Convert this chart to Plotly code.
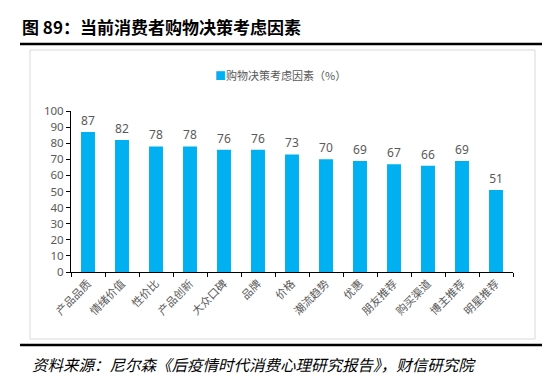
import plotly.graph_objects as go

categories = ["产品品质", "情绪价值", "性价比", "产品创新", "大众口碑", "品牌", "价格",
              "潮流趋势", "优惠", "朋友推荐", "购买渠道", "博主推荐", "明星推荐"]
values = [87, 82, 78, 78, 76, 76, 73, 70, 69, 67, 66, 69, 51]
series_name = "购物决策考虑因素（%）"
title_text = "图 89：当前消费者购物决策考虑因素"
source_text = "资料来源：尼尔森《后疫情时代消费心理研究报告》，财信研究院"

W, H = 550, 376
L, R, T, B = 63, 505, 103, 264  # plot area in pixels
BLUE = "#00B0F0"

def px(X):
    return (X - L) / (R - L)

def py(Y):
    return (B - Y) / (B - T)

CJK = "Noto Sans CJK SC"
GRAY = "#595959"

fig = go.Figure()
fig.add_trace(go.Bar(
    x=categories, y=values, name=series_name,
    marker=dict(color=BLUE, line=dict(width=0)),
    text=[str(v) for v in values], textposition="outside",
    textfont=dict(family="Noto Sans, " + CJK, size=12, color=GRAY),
    cliponaxis=False, showlegend=False,
))

fig.update_layout(
    width=W, height=H,
    margin=dict(l=L, r=W - R, t=T, b=H - B, autoexpand=False),
    paper_bgcolor="white", plot_bgcolor="white",
    bargap=0.59,
    xaxis=dict(type="category", showline=True, linecolor="black", linewidth=1,
               ticks="outside", tickson="boundaries", ticklen=4, tickcolor="black",
               tickangle=-45, tickfont=dict(family=CJK, size=11, color=GRAY),
               showgrid=False),
    yaxis=dict(range=[0, 100], dtick=10, showline=True, linecolor="black", linewidth=1,
               ticks="outside", ticklen=4, tickcolor="black", showgrid=False,
               tickfont=dict(family="Noto Sans, " + CJK, size=11.5, color=GRAY),
               zeroline=False),
    font=dict(family=CJK),
)

shapes = [
    dict(type="line", xref="paper", yref="paper", x0=px(12), x1=px(540), y0=py(36), y1=py(36),
         line=dict(color="black", width=2.5)),
    dict(type="rect", xref="paper", yref="paper", x0=px(22), x1=px(527), y0=py(331), y1=py(42),
         line=dict(color="#D9D9D9", width=1), fillcolor="rgba(0,0,0,0)", layer="below"),
    dict(type="line", xref="paper", yref="paper", x0=px(12), x1=px(537), y0=py(337), y1=py(337),
         line=dict(color="black", width=2.5)),
]
fig.update_layout(shapes=shapes)

# legend (manual)
fig.add_annotation(text="<span style='color:%s'>■</span>%s" % (BLUE, series_name),
                   xref="paper", yref="paper", x=px(205), y=py(67),
                   xanchor="left", yanchor="middle", showarrow=False,
                   font=dict(family=CJK, size=11, color=GRAY))

fig.add_annotation(text="<b>" + title_text + "</b>", xref="paper", yref="paper",
                   x=px(12), y=py(18), xanchor="left", yanchor="middle", showarrow=False,
                   font=dict(family=CJK, size=17, color="black"))
fig.add_annotation(text="<i>" + source_text + "</i>", xref="paper", yref="paper",
                   x=px(22), y=py(356), xanchor="left", yanchor="middle", showarrow=False,
                   font=dict(family=CJK, size=15.5, color="black"))

fig.write_html("out.html")
